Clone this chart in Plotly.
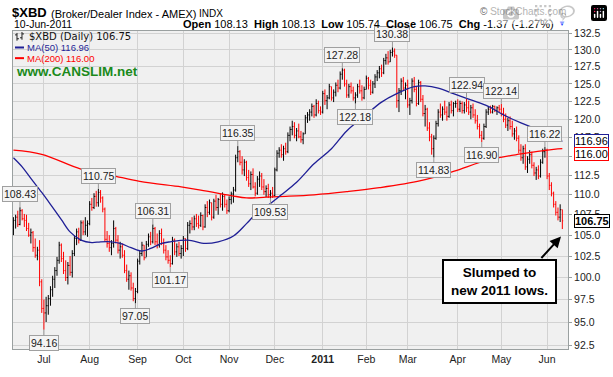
import math
import pandas as pd
import plotly.graph_objects as go

# ---------------- data ----------------
holidays = ["2010-07-05", "2010-09-06", "2010-11-25", "2010-12-24",
            "2011-01-17", "2011-02-21", "2011-04-22", "2011-05-30"]
dates = pd.bdate_range("2010-06-11", "2011-06-10", freq="C", holidays=holidays)

highs = [
    107.2, 107.5, 108.0, 108.43, 108.2, 107.6, 107.5, 106.5, 105.8, 105.5,
    104.6, 103.6, 104.4, 99.8, 97.5, 97.8, 98.0, 99.0, 100.2, 101.2,
    102.4, 104.2, 104.0, 103.0, 102.0, 101.8, 102.5, 103.2, 105.0, 105.8,
    105.9, 106.8, 106.8, 107.2, 106.8, 109.2, 109.6, 110.2, 110.5, 110.75,
    110.6, 109.8, 108.4, 105.5, 105.0, 104.4, 106.8, 106.0, 105.0, 104.2,
    104.0, 103.2, 101.5, 100.8, 100.6, 99.4, 98.8, 102.2, 103.2, 104.2,
    103.8, 104.3, 105.2, 105.4, 106.31, 106.0, 105.2, 105.6, 105.8, 104.6,
    103.8, 103.2, 102.6, 104.8, 104.6, 104.0, 104.2, 103.8, 104.9, 104.6,
    106.6, 106.8, 107.2, 107.4, 107.6, 107.4, 107.8, 107.5, 108.8, 109.2,
    109.4, 109.0, 109.5, 110.0, 109.6, 110.2, 110.3, 110.0, 109.4, 109.8,
    110.4, 111.0, 115.2, 116.35, 115.8, 115.0, 114.6, 114.4, 113.2, 113.0,
    113.4, 111.6, 112.4, 113.0, 112.8, 112.0, 111.2, 111.4, 110.6, 111.0,
    113.5, 115.8, 116.2, 116.6, 116.4, 116.8, 118.2, 119.0, 119.8, 119.6,
    118.8, 119.4, 118.4, 118.2, 120.6, 121.0, 121.4, 122.2, 122.0, 122.8,
    122.6, 121.8, 124.0, 124.2, 123.4, 125.0, 124.6, 124.2, 125.2, 125.6,
    126.8, 127.28, 127.2, 125.6, 125.0, 125.2, 124.6, 123.8, 125.0, 125.6,
    124.8, 124.6, 126.2, 126.0, 125.6, 125.4, 126.4, 127.0, 127.6, 127.8,
    128.8, 129.4, 129.8, 130.0, 130.38, 130.2, 129.2, 124.4, 125.8, 126.0,
    125.2, 125.6, 123.0, 125.8, 126.0, 124.6, 125.6, 125.4, 123.4, 122.0,
    121.6, 119.6, 118.0, 117.8, 119.8, 121.4, 122.2, 121.8, 122.6, 121.8,
    122.4, 122.6, 122.4, 122.6, 122.8, 122.6, 122.5, 122.4, 122.94, 122.6,
    122.0, 122.2, 121.4, 120.6, 119.4, 118.4, 119.4, 121.4, 121.8, 121.9,
    122.0, 121.9, 121.8, 122.0, 122.14, 121.6, 120.8, 120.2, 120.4, 119.8,
    118.8, 119.0, 117.8, 116.6, 116.4, 116.6, 115.0, 115.8, 115.6, 114.2,
    113.6, 113.8, 114.6, 116.0, 116.22, 116.0, 112.8, 111.6, 110.4, 109.2,
    108.4, 108.8, 108.13,
]

lows = [
    105.0, 105.8, 106.0, 106.2, 106.8, 106.0, 105.5, 104.8, 104.0, 103.0,
    102.3, 102.0, 99.0, 96.0, 94.16, 95.0, 95.8, 96.8, 97.8, 98.8,
    100.2, 101.6, 101.8, 100.4, 99.6, 99.2, 100.2, 100.0, 102.5, 103.8,
    104.0, 104.3, 105.0, 105.0, 104.8, 106.2, 108.0, 108.2, 108.5, 108.5,
    109.0, 107.8, 104.2, 103.5, 103.0, 102.6, 103.5, 104.0, 102.8, 102.2,
    102.3, 100.5, 99.5, 98.6, 98.5, 97.3, 97.05, 98.2, 101.5, 102.5,
    102.0, 102.4, 103.6, 103.8, 104.0, 103.8, 103.4, 103.5, 103.8, 102.8,
    102.0, 101.6, 101.17, 101.5, 102.6, 102.4, 102.5, 102.2, 102.5, 103.0,
    103.2, 105.2, 105.6, 105.6, 106.0, 105.8, 106.0, 105.6, 105.9, 107.2,
    107.5, 106.8, 107.0, 108.0, 107.5, 108.4, 108.0, 108.4, 107.6, 107.8,
    108.8, 109.0, 110.4, 114.2, 113.8, 112.6, 112.4, 111.8, 111.0, 110.6,
    110.8, 109.8, 110.0, 111.0, 110.6, 110.0, 109.7, 109.6, 109.53, 109.6,
    109.8, 113.0, 114.8, 114.8, 114.4, 115.2, 115.4, 117.0, 117.8, 117.4,
    117.0, 117.4, 116.8, 116.6, 118.0, 119.5, 119.8, 120.4, 120.2, 120.4,
    120.8, 120.6, 120.8, 122.0, 121.4, 122.8, 122.6, 122.4, 123.2, 123.8,
    124.2, 125.6, 124.6, 123.0, 123.0, 123.6, 122.6, 122.18, 123.0, 123.6,
    122.6, 122.8, 124.2, 124.2, 123.4, 123.6, 124.4, 125.4, 125.8, 126.0,
    126.4, 127.8, 127.8, 128.2, 129.0, 128.8, 121.6, 121.0, 123.4, 124.0,
    122.8, 121.6, 120.6, 122.2, 123.8, 121.8, 122.0, 122.4, 120.4, 119.0,
    118.4, 117.0, 115.2, 114.83, 117.2, 119.0, 120.2, 119.8, 120.6, 119.8,
    120.2, 120.8, 120.4, 121.6, 121.0, 121.0, 120.8, 120.8, 121.0, 120.6,
    120.0, 120.2, 119.4, 118.6, 117.4, 116.9, 117.2, 118.8, 120.6, 120.8,
    120.8, 121.0, 120.6, 121.0, 120.4, 119.6, 118.8, 118.4, 118.6, 117.6,
    117.2, 117.0, 115.4, 114.4, 114.0, 113.2, 112.8, 114.0, 113.4, 112.4,
    111.9, 112.0, 112.2, 114.0, 114.8, 112.0, 110.6, 109.8, 108.4, 107.4,
    106.8, 106.6, 105.74,
]

closes = [
    106.8, 107.2, 106.3, 108.0, 107.0, 106.8, 105.8, 105.0, 105.3, 103.5,
    102.6, 103.2, 99.5, 96.5, 96.0, 96.8, 97.6, 98.6, 99.8, 100.8,
    102.0, 103.8, 102.2, 100.8, 100.0, 101.4, 100.6, 102.8, 104.6, 105.4,
    104.4, 106.5, 105.4, 106.2, 106.4, 108.8, 108.4, 109.8, 109.0, 110.3,
    109.6, 108.2, 104.5, 104.0, 103.5, 104.0, 105.8, 104.4, 103.2, 103.6,
    102.6, 100.8, 99.8, 100.2, 98.8, 97.6, 98.4, 101.9, 102.8, 103.8,
    102.3, 103.9, 104.8, 104.2, 105.8, 104.2, 103.8, 105.2, 104.0, 103.2,
    102.4, 102.0, 101.6, 104.4, 103.0, 103.6, 102.8, 103.4, 104.6, 103.4,
    106.2, 106.4, 106.0, 107.0, 106.4, 106.2, 107.4, 106.0, 108.4, 107.8,
    109.0, 107.2, 109.2, 108.4, 109.4, 108.8, 109.8, 108.8, 108.0, 109.4,
    110.1, 110.6, 114.8, 115.6, 114.2, 113.2, 114.2, 112.2, 111.4, 112.6,
    111.0, 110.2, 112.0, 112.4, 111.0, 110.4, 110.8, 110.0, 110.2, 109.9,
    113.2, 115.4, 115.8, 115.2, 116.0, 115.6, 117.8, 118.6, 119.0, 117.8,
    118.4, 117.6, 117.2, 118.0, 120.2, 120.6, 121.0, 121.8, 120.6, 122.2,
    121.2, 121.0, 123.6, 122.6, 123.0, 124.6, 123.0, 123.8, 124.8, 124.4,
    126.4, 127.0, 125.0, 123.4, 124.6, 124.0, 123.0, 123.4, 124.6, 124.0,
    123.0, 124.2, 125.8, 124.8, 123.8, 125.0, 126.0, 126.6, 127.2, 126.6,
    128.4, 128.8, 128.2, 129.6, 129.8, 129.2, 122.6, 124.0, 125.4, 124.4,
    124.8, 122.0, 122.6, 125.4, 124.2, 122.2, 125.2, 122.8, 120.8, 121.4,
    118.8, 117.6, 116.0, 117.4, 119.4, 121.0, 120.6, 121.4, 121.0, 120.4,
    122.0, 121.2, 122.2, 122.2, 121.4, 122.2, 121.2, 122.0, 121.6, 121.0,
    121.6, 120.6, 119.8, 119.0, 117.8, 117.4, 119.0, 121.0, 121.4, 121.0,
    121.8, 121.2, 121.6, 121.4, 120.8, 120.0, 119.2, 119.8, 119.0, 118.0,
    118.4, 117.4, 115.8, 114.8, 116.0, 113.6, 114.6, 115.2, 113.8, 112.8,
    113.2, 112.4, 114.2, 115.6, 115.8, 112.4, 111.2, 110.2, 108.8, 107.8,
    107.2, 108.12, 106.75,
]
first_open = 106.0
last_open = 108.13

ma50_idx = [0, 4, 8, 13, 17, 22, 26, 31, 36, 40, 45, 49, 54, 59, 63, 68, 72,
            80, 88, 94, 101, 107, 112, 118, 123, 130, 138, 146, 153, 161, 169,
            176, 184, 189, 195, 202, 210, 218, 225, 233, 240, 246, 252]
ma50_val = [114.8, 113.6, 112.1, 110.3, 108.8, 106.9, 105.4, 104.4, 104.1, 104.2,
            104.2, 104.0, 103.5, 103.1, 103.4, 104.0, 104.2, 104.4, 104.0, 104.2,
            104.9, 106.4, 107.8, 108.9, 110.0, 111.6, 114.0, 116.0, 118.4, 120.4,
            122.4, 123.6, 124.6, 124.7, 124.4, 123.6, 122.7, 121.8, 120.6, 119.5,
            118.7, 118.2, 116.96]

ma200_idx = [0, 13, 31, 45, 58, 77, 86, 100, 107, 116, 125, 138, 153, 168,
             187, 202, 218, 233, 248, 252]
ma200_val = [115.8, 115.25, 113.3, 112.5, 111.7, 111.0, 110.6, 109.9, 109.6, 109.7,
             109.8, 110.0, 110.4, 110.9, 111.8, 113.0, 114.5, 115.3, 115.9, 116.0]

label_high_values = [108.43, 110.75, 106.31, 116.35, 127.28, 130.38, 122.94, 122.14, 116.22]
label_low_values = [94.16, 97.05, 101.17, 109.53, 122.18, 114.83, 116.90]

ytick_vals = [92.5, 95.0, 97.5, 100.0, 102.5, 105.0, 107.5, 110.0, 112.5, 115.0,
              117.5, 120.0, 122.5, 125.0, 127.5, 130.0, 132.5]

# ---------------- derived ----------------
n = len(closes)
xs = list(range(n))
opens = [first_open] + closes[:-1]
opens[-1] = last_open

tickvals, ticktext = [], []
prev_m = None
for i, d in enumerate(dates[:n]):
    if d.month != prev_m:
        if i > 0:
            tickvals.append(i)
            ticktext.append("<b>2011</b>" if d.month == 1 else d.strftime("%b"))
        prev_m = d.month

FONT = "Liberation Sans, Arial, sans-serif"
W, H = 613, 377
L, R, T, B = 12, 45, 31, 18


def px(x):
    return (x - L) / (W - L - R)


def py(y):
    return (H - B - y) / (H - T - B)


fig = go.Figure()
fig.add_trace(go.Ohlc(
    x=xs, open=opens, high=highs, low=lows, close=closes,
    increasing=dict(line=dict(color="#000000", width=1)),
    decreasing=dict(line=dict(color="#ff0000", width=1)),
    tickwidth=0.4, hoverinfo="skip"))
fig.add_trace(go.Scatter(x=ma200_idx, y=ma200_val, mode="lines",
                         line=dict(color="#ff0000", width=1.3, shape="spline"),
                         hoverinfo="skip"))
fig.add_trace(go.Scatter(x=ma50_idx, y=ma50_val, mode="lines",
                         line=dict(color="#1f1f96", width=1.3, shape="spline"),
                         hoverinfo="skip"))

ann = []
for v in label_high_values:
    i = highs.index(v)
    ann.append(dict(x=i, y=math.log10(v), xref="x", yref="y", text=f"{v:.2f}",
                    showarrow=True, arrowhead=0, arrowwidth=1, arrowcolor="#999999",
                    ax=0, ay=-13, standoff=0, font=dict(size=10.5, color="#222", family=FONT),
                    bgcolor="#f4f4f4", bordercolor="#a0a0a0", borderwidth=1, borderpad=1))
for v in label_low_values:
    i = lows.index(v)
    ann.append(dict(x=i, y=math.log10(v), xref="x", yref="y", text=f"{v:.2f}",
                    showarrow=True, arrowhead=0, arrowwidth=1, arrowcolor="#999999",
                    ax=0, ay=13, standoff=0, font=dict(size=10.5, color="#222", family=FONT),
                    bgcolor="#f4f4f4", bordercolor="#a0a0a0", borderwidth=1, borderpad=1))

# right-hand value boxes
for val, col, dy, bold in [(ma50_val[-1], "#1f1f96", 1, False),
                           (ma200_val[-1], "#ff0000", -5, False),
                           (closes[-1], "#000000", 0, True)]:
    t = f"{val:.2f}"
    ann.append(dict(x=1.0, y=math.log10(val), xref="paper", yref="y",
                    xanchor="left", yanchor="middle", xshift=6, yshift=dy,
                    text=f"<b>{t}</b>" if bold else t, showarrow=False,
                    font=dict(size=11, color="#000", family=FONT),
                    bgcolor="white", bordercolor=col, borderwidth=1, borderpad=0))

# header
last = dates[n - 1]
chg = closes[-1] - closes[-2]
pct = chg / closes[-2] * 100
ann += [
    dict(x=px(9), y=py(12), xref="paper", yref="paper", xanchor="left", yanchor="middle",
         text="<b>$XBD</b>", showarrow=False, font=dict(size=13, color="#000", family=FONT)),
    dict(x=px(48), y=py(13), xref="paper", yref="paper", xanchor="left", yanchor="middle",
         text="(Broker/Dealer Index - AMEX)", showarrow=False,
         font=dict(size=11, color="#000", family=FONT)),
    dict(x=px(196), y=py(13), xref="paper", yref="paper", xanchor="left", yanchor="middle",
         text="INDX", showarrow=False, font=dict(size=10, color="#000", family=FONT)),
    dict(x=px(11), y=py(24), xref="paper", yref="paper", xanchor="left", yanchor="middle",
         text=last.strftime("%d-%b-%Y"), showarrow=False,
         font=dict(size=10.5, color="#000", family=FONT)),
    dict(x=px(556), y=py(24), xref="paper", yref="paper", xanchor="right", yanchor="middle",
         text=(f"<b>Open</b> {opens[-1]:.2f}  <b>High</b> {highs[-1]:.2f}  "
               f"<b>Low</b> {lows[-1]:.2f}  <b>Close</b> {closes[-1]:.2f}  "
               f"<b>Chg</b> {chg:.2f} ({pct:.2f}%)"),
         showarrow=False, font=dict(size=11, color="#000", family=FONT)),
    dict(x=px(562), y=py(23), xref="paper", yref="paper", xanchor="center", yanchor="middle",
         text="▼", showarrow=False, font=dict(size=8, color="#1a3cff", family=FONT)),
    dict(x=px(568), y=py(11), xref="paper", yref="paper", xanchor="right", yanchor="middle",
         text="© StockCharts.com", showarrow=False, font=dict(size=10, color="#666", family=FONT)),
    # in-plot legend
    dict(x=px(26), y=py(36.5), xref="paper", yref="paper", xanchor="left", yanchor="middle",
         text=f"$XBD (Daily) {closes[-1]:.2f}", showarrow=False,
         font=dict(size=10, color="#111", family="DejaVu Sans")),
    dict(x=px(24), y=py(48), xref="paper", yref="paper", xanchor="left", yanchor="middle",
         text=f"MA(50) {ma50_val[-1]:.2f}", showarrow=False,
         font=dict(size=9.5, color="#1f1f96", family=FONT)),
    dict(x=px(24), y=py(59), xref="paper", yref="paper", xanchor="left", yanchor="middle",
         text=f"MA(200) {ma200_val[-1]:.2f}", showarrow=False,
         font=dict(size=9.5, color="#ff0000", family=FONT)),
    dict(x=px(13), y=py(72.5), xref="paper", yref="paper", xanchor="left", yanchor="middle",
         text="<b>www.CANSLIM.net</b>", showarrow=False,
         font=dict(size=13.5, color="#1b8a1b", family=FONT)),
    # callout
    dict(x=px(499.5), y=py(289.5), xref="paper", yref="paper", xanchor="center", yanchor="middle",
         text="<b>Slumped to<br>new 2011 lows.</b>", showarrow=False, align="center",
         width=101, height=31, borderpad=5, borderwidth=2, bordercolor="#000", bgcolor="white",
         font=dict(size=13.5, color="#000", family=FONT)),
    dict(x=px(561), y=py(243), xref="paper", yref="paper", text="",
         showarrow=True, arrowhead=2, arrowsize=1.1, arrowwidth=2, arrowcolor="#000",
         ax=-21, ay=23, standoff=0),
]

shapes = []
for (x0, y0, x1, y1) in [(16, 33, 16, 41), (14, 35, 16, 35), (16, 39, 18, 39),
                         (21, 32, 21, 40), (19, 38, 21, 38), (21, 34, 23, 34)]:
    shapes.append(dict(type="line", xref="paper", yref="paper",
                       x0=px(x0), y0=py(y0), x1=px(x1), y1=py(y1),
                       line=dict(color="#222", width=1)))
shapes.append(dict(type="line", xref="paper", yref="paper", x0=px(14), x1=px(23),
                   y0=py(48), y1=py(48), line=dict(color="#1f1f96", width=2)))
shapes.append(dict(type="line", xref="paper", yref="paper", x0=px(14), x1=px(23),
                   y0=py(59), y1=py(59), line=dict(color="#ff0000", width=2)))

fig.update_layout(
    width=W, height=H,
    margin=dict(l=L, r=R, t=T, b=B, pad=0),
    paper_bgcolor="white", plot_bgcolor="#f0f0f0",
    showlegend=False,
    font=dict(family=FONT, size=10.5, color="#222"),
    annotations=ann, shapes=shapes,
    xaxis=dict(range=[-0.2, 254.6], tickmode="array", tickvals=tickvals, ticktext=ticktext,
               showgrid=True, gridcolor="#d2d2d2", gridwidth=1, zeroline=False,
               ticks="", tickfont=dict(size=10.5, color="#222"),
               showline=True, linecolor="#9aa0a0", mirror=True,
               rangeslider=dict(visible=False), fixedrange=True),
    yaxis=dict(type="log", side="right",
               range=[math.log10(92.09), math.log10(132.85)],
               tickmode="array", tickvals=ytick_vals,
               ticktext=[f"{v:.1f}" for v in ytick_vals],
               showgrid=True, gridcolor="#d2d2d2", gridwidth=1, zeroline=False,
               ticks="outside", ticklen=3, tickcolor="#9aa0a0",
               tickfont=dict(size=10.5, color="#222"),
               showline=True, linecolor="#9aa0a0", mirror=True, fixedrange=True),
)

page_css = (
    "var h=document.documentElement,b=document.body;"
    "h.style.margin='0';h.style.padding='0';h.style.overflow='hidden';"
    "b.style.margin='0';b.style.padding='0';b.style.overflow='hidden';"
    "b.style.height='377px';b.style.width='613px';"
    "var g=document.getElementsByClassName('plotly-graph-div');"
    "for(var k=0;k<g.length;k++){g[k].style.display='block';"
    "if(g[k].parentNode){g[k].parentNode.style.lineHeight='0';g[k].parentNode.style.fontSize='0';}}"
    "window.scrollTo(0,0);"
)
fig.write_html("out.html", post_script=page_css)
